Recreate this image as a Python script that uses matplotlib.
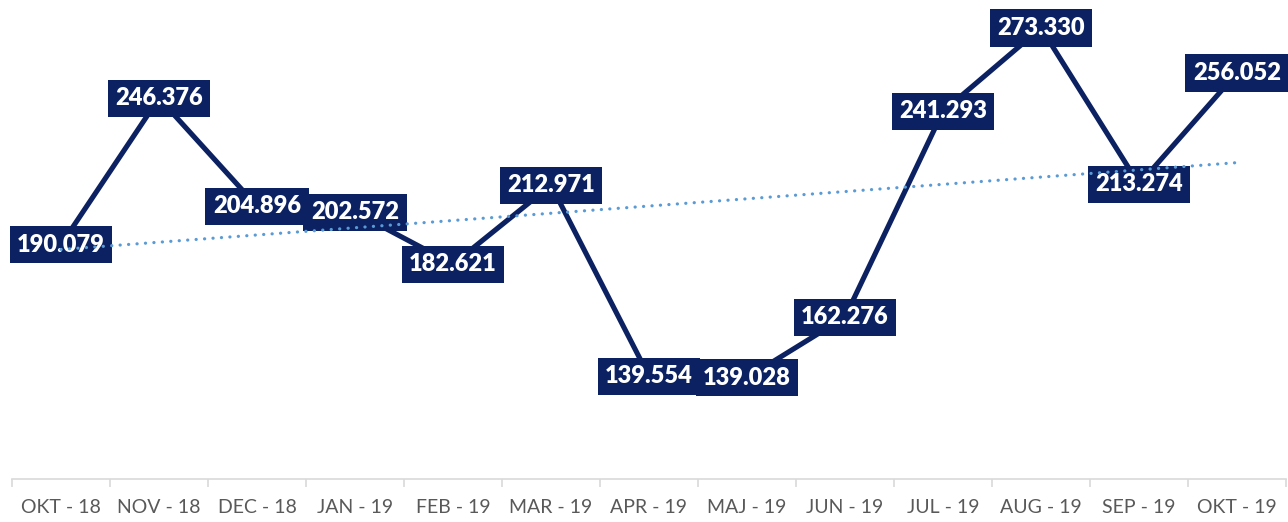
import matplotlib.pyplot as plt
import numpy as np

months = ['OKT - 18', 'NOV - 18', 'DEC - 18', 'JAN - 19', 'FEB - 19', 'MAR - 19', 'APR - 19',
          'MAJ - 19', 'JUN - 19', 'JUL - 19', 'AUG - 19', 'SEP - 19', 'OKT - 19']
values = [190.079, 246.376, 204.896, 202.572, 182.621, 212.971, 139.554,
          139.028, 162.276, 241.293, 273.330, 213.274, 256.052]
labels = ['190.079', '246.376', '204.896', '202.572', '182.621', '212.971', '139.554',
          '139.028', '162.276', '241.293', '273.330', '213.274', '256.052']

navy = '#0b2161'
trend_col = '#5b9bd5'

fig = plt.figure(figsize=(12.88, 5.22), dpi=100)
ax = fig.add_axes([12 / 1288, 42.7 / 522, 1274 / 1288, 468.7 / 522])

x = np.arange(len(values))
ax.plot(x, values, color=navy, lw=3.7, zorder=2, solid_joinstyle='miter')

# linear trend
k, b = np.polyfit(x, values, 1)
ax.plot(x, k * x + b, color=trend_col, lw=2.3, linestyle=(0, (0.05, 2.6)),
        dash_capstyle='round', zorder=5)

for xi, v, s in zip(x, values, labels):
    ax.text(xi, v, s, ha='center', va='center', color='white', fontsize=17,
            fontweight='heavy', family='Lato', zorder=3,
            bbox=dict(boxstyle='square,pad=0.32', fc=navy, ec='none'))

ax.set_xlim(-0.5, len(values) - 0.5)
ax.set_ylim(100, 280)

for sp in ['top', 'right', 'left']:
    ax.spines[sp].set_visible(False)
ax.spines['bottom'].set_color('#d9d9d9')
ax.spines['bottom'].set_linewidth(1.2)

ax.set_yticks([])
ax.set_xticks(x)
ax.set_xticklabels(months, fontsize=14, color='#595959', family='Lato')
ax.tick_params(axis='x', which='major', length=0, pad=14)
ax.set_xticks(np.arange(-0.5, len(values), 1), minor=True)
ax.tick_params(axis='x', which='minor', length=6, width=1.2, color='#d9d9d9')

fig.savefig('out.png', dpi=100)
